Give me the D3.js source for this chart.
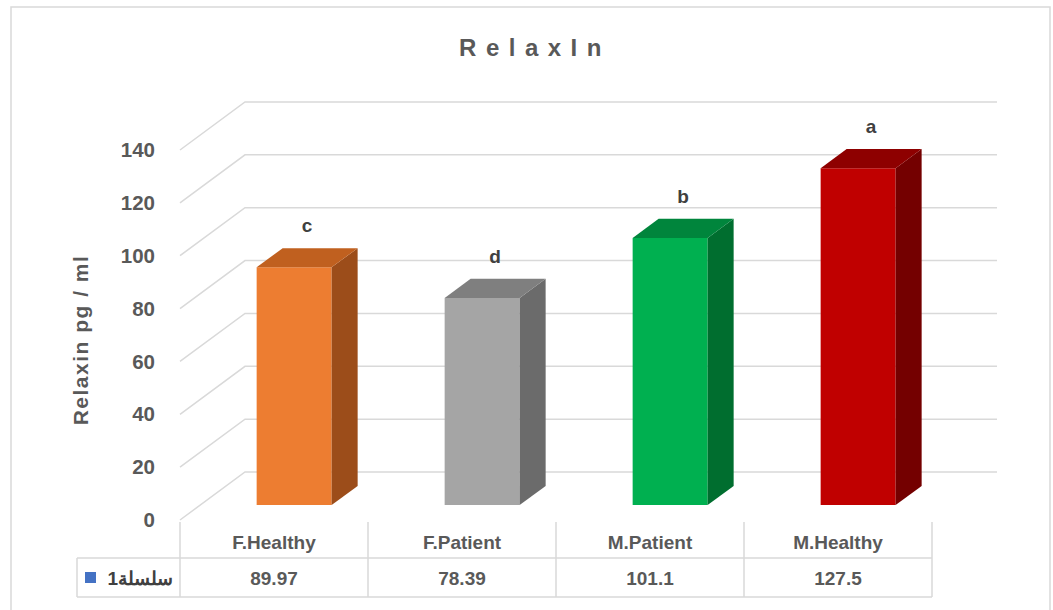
<!DOCTYPE html>
<html>
<head>
<meta charset="utf-8">
<script src="https://cdn.jsdelivr.net/npm/d3@7"></script>
<style>
  body { margin: 0; background: #fff; }
  text { font-family: "Liberation Sans", Arial, sans-serif; }
</style>
</head>
<body>
<svg id="chart" width="1053" height="610"></svg>
<script>
// chart values
var categories = ["F.Healthy", "F.Patient", "M.Patient", "M.Healthy"];
var values = [89.97, 78.39, 101.1, 127.5];
var valueLabels = ["89.97", "78.39", "101.1", "127.5"];
var letters = ["c", "d", "b", "a"];
var yTicks = [0, 20, 40, 60, 80, 100, 120, 140];
var frontColors = ["#ED7D31", "#A5A5A5", "#00B050", "#C00000"];
var topColors = ["#C0601F", "#7F7F7F", "#00853C", "#8E0000"];
var sideColors = ["#9C4D1A", "#6B6B6B", "#006E2F", "#740000"];
var seriesName = "سلسلة1";

var svg;
var x;
var y;

// depth of the 3d box (front -> back)
var depthX = 65;
var depthY = -48;
var barT0 = 0.31;
var barT1 = 0.71;

function P(px, v, t) {
    return [px + depthX * t, y(v) + depthY * t];
}

document.addEventListener('DOMContentLoaded', function() {
    svg = d3.select('#chart');

    x = d3.scaleBand().domain(categories).range([180, 932]);
    y = d3.scaleLinear().domain([0, 140]).range([520, 150]);

    // outer frame
    svg.append("rect")
        .attr("x", 11).attr("y", 7)
        .attr("width", 1039).attr("height", 620)
        .attr("fill", "none")
        .attr("stroke", "#D9D9D9")
        .attr("stroke-width", 1.5);

    drawWalls();
    drawBars();
    drawTable();

    svg.append("text")
        .attr("x", 535)
        .attr("y", 56)
        .attr("text-anchor", "middle")
        .attr("fill", "#595959")
        .attr("font-size", 24)
        .attr("font-weight", "bold")
        .attr("letter-spacing", 9.5)
        .text("RelaxIn");

    svg.append("text")
        .attr("transform", "translate(88,340) rotate(-90)")
        .attr("text-anchor", "middle")
        .attr("fill", "#595959")
        .attr("font-size", 21)
        .attr("font-weight", "bold")
        .attr("letter-spacing", 1.5)
        .text("Relaxin pg / ml");
});

function drawWalls() {
    var x0 = x.range()[0];
    var x1 = x.range()[1];

    var g = svg.append("g");
    yTicks.forEach(function(v) {
        var a = P(x0, v, 0);
        var b = P(x0, v, 1);
        var c = P(x1, v, 1);
        g.append("polyline")
            .attr("points", [a, b, c].map(function(p) { return p.join(","); }).join(" "))
            .attr("fill", "none")
            .attr("stroke", "#D9D9D9")
            .attr("stroke-width", 1.5);
    });

    g.selectAll(".ytick")
        .data(yTicks)
        .enter().append("text")
        .attr("x", 155)
        .attr("y", function(d) { return y(d); })
        .attr("dy", "0.35em")
        .attr("text-anchor", "end")
        .attr("fill", "#595959")
        .attr("font-size", 20.5)
        .attr("font-weight", "bold")
        .text(function(d) { return d; });
}

function drawBars() {
    var bw = 75;
    var pad = (x.bandwidth() - bw) / 2;

    var bars = svg.selectAll(".bar")
        .data(values)
        .enter().append("g")
        .attr("class", "bar");

    function pts(list) {
        return list.map(function(p) { return p.join(","); }).join(" ");
    }

    // front face
    bars.append("polygon")
        .attr("fill", function(d, i) { return frontColors[i]; })
        .attr("points", function(d, i) {
            var l = x(categories[i]) + pad, r = l + bw;
            return pts([P(l, 0, barT0), P(r, 0, barT0), P(r, d, barT0), P(l, d, barT0)]);
        });

    // side face
    bars.append("polygon")
        .attr("fill", function(d, i) { return sideColors[i]; })
        .attr("points", function(d, i) {
            var r = x(categories[i]) + pad + bw;
            return pts([P(r, 0, barT0), P(r, 0, barT1), P(r, d, barT1), P(r, d, barT0)]);
        });

    // top face
    bars.append("polygon")
        .attr("fill", function(d, i) { return topColors[i]; })
        .attr("points", function(d, i) {
            var l = x(categories[i]) + pad, r = l + bw;
            return pts([P(l, d, barT0), P(r, d, barT0), P(r, d, barT1), P(l, d, barT1)]);
        });

    bars.append("text")
        .attr("x", function(d, i) { return x(categories[i]) + x.bandwidth() / 2 + depthX * (barT0 + barT1) / 2; })
        .attr("y", function(d) { return P(0, d, barT1)[1] - 16; })
        .attr("text-anchor", "middle")
        .attr("fill", "#404040")
        .attr("font-size", 19)
        .attr("font-weight", "bold")
        .text(function(d, i) { return letters[i]; });
}

function drawTable() {
    var g = svg.append("g");
    var top = 522, mid = 558, bot = 597, left = 77;
    var x0 = x.range()[0], x1 = x.range()[1];
    var line = function(a, b, c, d) {
        g.append("line")
            .attr("x1", a).attr("y1", b).attr("x2", c).attr("y2", d)
            .attr("stroke", "#D9D9D9").attr("stroke-width", 1.5);
    };

    line(left, mid, x1, mid);
    line(left, bot, x1, bot);
    line(left, mid, left, bot);
    categories.forEach(function(c) { line(x(c), top, x(c), bot); });
    line(x1, top, x1, bot);

    g.selectAll(".cat")
        .data(categories)
        .enter().append("text")
        .attr("x", function(d) { return x(d) + x.bandwidth() / 2; })
        .attr("y", 542)
        .attr("dy", "0.35em")
        .attr("text-anchor", "middle")
        .attr("fill", "#595959")
        .attr("font-size", 19)
        .attr("font-weight", "bold")
        .text(function(d) { return d; });

    g.selectAll(".val")
        .data(valueLabels)
        .enter().append("text")
        .attr("x", function(d, i) { return x(categories[i]) + x.bandwidth() / 2; })
        .attr("y", 578)
        .attr("dy", "0.35em")
        .attr("text-anchor", "middle")
        .attr("fill", "#595959")
        .attr("font-size", 19)
        .attr("font-weight", "bold")
        .text(function(d) { return d; });

    g.append("rect")
        .attr("x", 85).attr("y", 572)
        .attr("width", 11).attr("height", 11)
        .attr("fill", "#4472C4");

    g.append("text")
        .attr("x", 173)
        .attr("y", 578)
        .attr("dy", "0.35em")
        .attr("text-anchor", "end")
        .attr("fill", "#404040")
        .attr("font-size", 19)
        .attr("font-weight", "bold")
        .attr("font-family", "'DejaVu Sans', sans-serif")
        .text(seriesName);
}
</script>
</body>
</html>
